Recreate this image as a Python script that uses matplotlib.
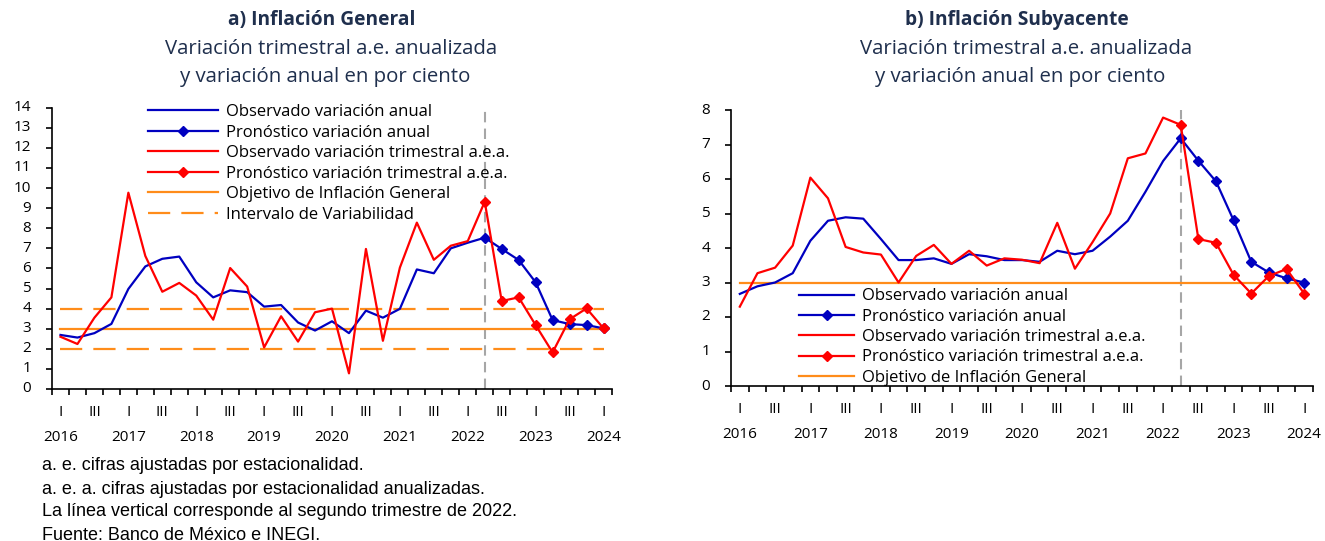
import numpy as np
import matplotlib
matplotlib.use("Agg")
import matplotlib.pyplot as plt
from matplotlib.lines import Line2D

# Quarterly series, 2016 Q1 .. 2024 Q1 (33 quarters)
years = list(range(2016, 2025))
n_quarters = 33
forecast_start = 25  # 2022 Q2

# a) Inflación General
gen_anual = [2.69, 2.56, 2.78, 3.24, 4.98, 6.10, 6.48, 6.59, 5.31, 4.56,
             4.91, 4.82, 4.10, 4.18, 3.31, 2.91, 3.37, 2.78, 3.90, 3.55,
             3.99, 5.95, 5.76, 7.00, 7.28, 7.53, 6.97, 6.42, 5.31, 3.43,
             3.23, 3.18, 3.02]
gen_trim = [2.60, 2.24, 3.55, 4.56, 9.77, 6.62, 4.84, 5.28, 4.65, 3.45,
            6.02, 5.10, 2.07, 3.62, 2.36, 3.82, 4.00, 0.78, 6.97, 2.40,
            6.04, 8.28, 6.43, 7.13, 7.36, 9.32, 4.38, 4.56, 3.18, 1.82,
            3.47, 4.01, 3.02]

# b) Inflación Subyacente
sub_anual = [2.67, 2.89, 3.00, 3.27, 4.21, 4.79, 4.89, 4.85, 4.26, 3.65,
             3.65, 3.70, 3.54, 3.82, 3.76, 3.65, 3.65, 3.60, 3.92, 3.82,
             3.92, 4.33, 4.79, 5.63, 6.52, 7.18, 6.53, 5.93, 4.80, 3.60,
             3.29, 3.12, 3.00]
sub_trim = [2.30, 3.27, 3.43, 4.07, 6.04, 5.44, 4.03, 3.87, 3.81, 3.00,
            3.77, 4.09, 3.54, 3.92, 3.49, 3.70, 3.66, 3.56, 4.73, 3.40,
            4.17, 5.00, 6.60, 6.74, 7.78, 7.57, 4.26, 4.15, 3.22, 2.68,
            3.19, 3.39, 2.68]

objetivo = 3.0
intervalo = (2.0, 4.0)

labels = [
    "Observado variación anual",
    "Pronóstico variación anual",
    "Observado variación trimestral a.e.a.",
    "Pronóstico variación trimestral a.e.a.",
    "Objetivo de Inflación General",
    "Intervalo de Variabilidad",
]

BLUE = "#0000C0"
RED = "#FF0000"
ORANGE = "#FF8C1A"
GREY = "#A6A6A6"
NAVY = "#1F2F4D"
TEXT_FONT = "Open Sans"

W, H = 1325, 541
fig = plt.figure(figsize=(W / 100, H / 100), dpi=100)


def px_axes(x0, x1, y_bottom, y_top):
    """Axes rectangle from pixel coordinates (origin top-left)."""
    return fig.add_axes([x0 / W, 1 - y_bottom / H, (x1 - x0) / W, (y_bottom - y_top) / H])


def draw_panel(ax, anual, trim, ymax, with_band):
    x = np.arange(n_quarters)
    fs = forecast_start
    anual = np.array(anual)
    trim = np.array(trim)

    ax.plot(x, np.full(n_quarters, objetivo), color=ORANGE, lw=1.6, zorder=2)
    if with_band:
        for v in intervalo:
            ax.plot(x, np.full(n_quarters, v), color=ORANGE, lw=1.6,
                    dashes=(10, 5), zorder=2)

    ax.plot([fs, fs], [0, ymax], color=GREY, lw=1.5, dashes=(5, 3), zorder=1,
            clip_on=False)

    ax.plot(x[:fs + 1], anual[:fs + 1], color=BLUE, lw=1.6, zorder=3)
    ax.plot(x[fs:], anual[fs:], color=BLUE, lw=1.6, marker="D", ms=5.5, zorder=4)
    ax.plot(x[:fs + 1], trim[:fs + 1], color=RED, lw=1.6, zorder=3)
    ax.plot(x[fs:], trim[fs:], color=RED, lw=1.6, marker="D", ms=5.5, zorder=4)

    ax.set_xlim(-0.5, n_quarters - 0.5)
    ax.set_ylim(0, ymax)
    ax.set_xticks(np.arange(-0.5, n_quarters, 1))
    ax.set_xticklabels([])
    ax.set_yticks(range(0, ymax + 1))
    ax.set_yticklabels([])
    ax.tick_params(axis="both", direction="out", length=4, width=1.2, color="black")
    for side in ("top", "right"):
        ax.spines[side].set_visible(False)
    for side in ("left", "bottom"):
        ax.spines[side].set_linewidth(1.2)

    # value labels on the left, right-aligned a fixed distance from the axis
    ytrans = ax.get_yaxis_transform()
    for v in range(0, ymax + 1):
        ax.annotate(str(v), xy=(0, v), xycoords=ytrans, xytext=(-15, 0),
                    textcoords="offset points", ha="right", va="center",
                    fontsize=11, family=TEXT_FONT)

    trans = ax.get_xaxis_transform()
    for q in range(0, n_quarters, 2):
        roman = "I" if q % 4 == 0 else "III"
        ax.annotate(roman, xy=(q, 0), xycoords=trans, xytext=(0, -17),
                    textcoords="offset points", ha="center", va="center",
                    fontsize=11, family=TEXT_FONT)
    for k, yr in enumerate(years):
        ax.annotate(str(yr), xy=(4 * k, 0), xycoords=trans, xytext=(0, -35),
                    textcoords="offset points", ha="center", va="center",
                    fontsize=11, family=TEXT_FONT)


def legend_handles(n):
    h = [
        Line2D([], [], color=BLUE, lw=1.6),
        Line2D([], [], color=BLUE, lw=1.6, marker="D", ms=5.5),
        Line2D([], [], color=RED, lw=1.6),
        Line2D([], [], color=RED, lw=1.6, marker="D", ms=5.5),
        Line2D([], [], color=ORANGE, lw=1.6),
        Line2D([], [], color=ORANGE, lw=1.6, dashes=(10, 5)),
    ]
    return h[:n], labels[:n]


ax1 = px_axes(52, 612, 389, 107.7)
draw_panel(ax1, gen_anual, gen_trim, 14, True)
h, l = legend_handles(6)
ax1.legend(h, l, loc="upper left", bbox_to_anchor=(140 / W, 1 - 96 / H),
           bbox_transform=fig.transFigure, frameon=False, borderpad=0,
           handlelength=4.2, handletextpad=0.45, labelspacing=0.27,
           prop={"family": TEXT_FONT, "size": 12})

ax2 = px_axes(731, 1313, 386, 110)
draw_panel(ax2, sub_anual, sub_trim, 8, False)
h, l = legend_handles(5)
ax2.legend(h, l, loc="upper left", bbox_to_anchor=(791 / W, 1 - 280 / H),
           bbox_transform=fig.transFigure, frameon=False, borderpad=0,
           handlelength=3.3, handletextpad=0.45, labelspacing=0.26,
           prop={"family": TEXT_FONT, "size": 12})

# panel titles
for cx, title in ((322, "a) Inflación General"), (1017, "b) Inflación Subyacente")):
    fig.text(cx / W, 1 - 20 / H, title, ha="center", va="center",
             fontsize=13.8, fontweight="bold", color=NAVY, family=TEXT_FONT)
    fig.text((cx + 9) / W, 1 - 49 / H, "Variación trimestral a.e. anualizada",
             ha="center", va="center", fontsize=14.7, color=NAVY, family=TEXT_FONT)
    fig.text((cx + 3) / W, 1 - 77 / H, "y variación anual en por ciento",
             ha="center", va="center", fontsize=14.7, color=NAVY, family=TEXT_FONT)

notes = [
    "a. e. cifras ajustadas por estacionalidad.",
    "a. e. a. cifras ajustadas por estacionalidad anualizadas.",
    "La línea vertical corresponde al segundo trimestre de 2022.",
    "Fuente: Banco de México e INEGI.",
]
for k, note in enumerate(notes):
    fig.text(42 / W, 1 - (466 + 23 * k) / H, note, ha="left", va="center",
             fontsize=13, family="Liberation Sans", color="black")

fig.savefig("out.png", dpi=100, facecolor="white")
